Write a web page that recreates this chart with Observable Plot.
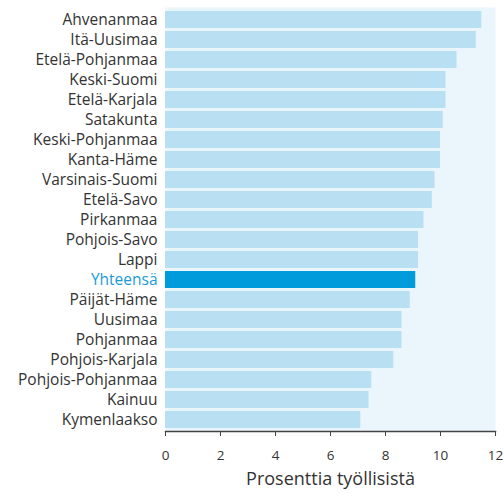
<!DOCTYPE html>
<html>
<head>
<meta charset="utf-8">
<script src="https://cdn.jsdelivr.net/npm/d3@7"></script>
<script src="https://cdn.jsdelivr.net/npm/@observablehq/plot@0.6"></script>
<style>
  html, body { margin: 0; padding: 0; background: #fff; }
  svg { display: block; }
</style>
</head>
<body>
<div id="chart"></div>
<script>
const regions = ["Ahvenanmaa","Itä-Uusimaa","Etelä-Pohjanmaa","Keski-Suomi","Etelä-Karjala","Satakunta","Keski-Pohjanmaa","Kanta-Häme","Varsinais-Suomi","Etelä-Savo","Pirkanmaa","Pohjois-Savo","Lappi","Yhteensä","Päijät-Häme","Uusimaa","Pohjanmaa","Pohjois-Karjala","Pohjois-Pohjanmaa","Kainuu","Kymenlaakso"];
const values = [11.5,11.3,10.6,10.2,10.2,10.1,10.0,10.0,9.8,9.7,9.4,9.2,9.2,9.1,8.9,8.6,8.6,8.3,7.5,7.4,7.1];
const xTicks = [0,2,4,6,8,10,12];
const totalLabel = "Yhteensä";
const xLabel = "Prosenttia työllisistä";

const data = regions.map((r, i) => ({region: r, value: values[i]}));

const chart = Plot.plot({
  width: 504,
  height: 496,
  marginLeft: 165,
  marginRight: 9,
  marginTop: 7,
  marginBottom: 65,
  style: {fontFamily: "'Open Sans', sans-serif", fontSize: "14px", color: "#333"},
  x: {domain: [0, 12], ticks: xTicks, label: null},
  y: {domain: regions, padding: 0.15, axis: null},
  marks: [
    Plot.frame({fill: "#eaf5fc", stroke: null}),
    Plot.barX(data, {x: "value", y: "region", fill: d => d.region === totalLabel ? "#009bdb" : "#b9dff2"}),
    Plot.text(data, {x: 0, y: "region", text: "region", textAnchor: "end", dx: -8, fontSize: 15.5,
      fill: d => d.region === totalLabel ? "#1a9bd7" : "#333"}),
    Plot.axisX({ticks: xTicks, tickSize: 5, tickPadding: 14, fontSize: 13.5, stroke: "#444", fill: "#333", label: null}),
    Plot.frame({anchor: "bottom", stroke: "#444", strokeWidth: 1.5}),
    Plot.text([xLabel], {frameAnchor: "bottom", text: d => d, dy: 53, fontSize: 18, fill: "#333"})
  ]
});
document.getElementById("chart").appendChild(chart);
</script>
</body>
</html>
